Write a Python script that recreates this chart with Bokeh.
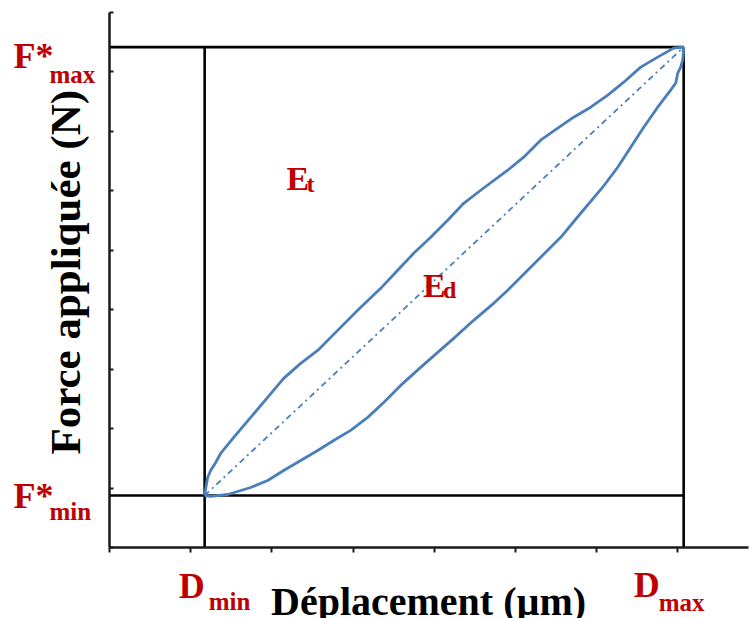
import math
from bokeh.plotting import figure
from bokeh.models import Label, FixedTicker, Range1d
from bokeh.embed import file_html
from bokeh.resources import INLINE

# ---- data (arbitrary units) ----
x_ticks = [0, 1, 2, 3, 4, 5, 6, 7]
y_ticks = [0, 1, 2, 3, 4, 5, 6, 7, 8, 9]
x_axis_end = 7.87
y_axis_end = 9

D_min, D_max = 1.172, 7.071
F_min, F_max = 0.875, 8.418

load_x = [1.172, 1.185, 1.209, 1.246, 1.308, 1.369, 1.530, 1.739, 1.948, 2.145,
          2.355, 2.564, 2.810, 3.069, 3.340, 3.549, 3.746, 3.956, 4.165, 4.362,
          4.571, 4.904, 5.101, 5.310, 5.520, 5.717, 5.926, 6.136, 6.333, 6.542,
          6.751, 6.948, 7.071]
load_y = [0.875, 0.993, 1.178, 1.296, 1.431, 1.582, 1.852, 2.189, 2.525, 2.845,
          3.098, 3.316, 3.653, 4.007, 4.360, 4.663, 4.949, 5.219, 5.505, 5.791,
          6.010, 6.347, 6.566, 6.852, 7.054, 7.239, 7.407, 7.609, 7.828, 8.081,
          8.249, 8.401, 8.418]

unload_x = [1.172, 1.246, 1.456, 1.739, 1.948, 2.145, 2.355, 2.564, 2.761, 2.970,
            3.180, 3.377, 3.586, 3.832, 4.042, 4.239, 4.485, 4.731, 4.904, 5.064,
            5.310, 5.557, 5.803, 6.074, 6.259, 6.419, 6.579, 6.751, 6.911, 6.973,
            6.998, 7.034, 7.059, 7.071, 7.071]
unload_y = [0.875, 0.859, 0.892, 1.010, 1.128, 1.296, 1.465, 1.633, 1.801, 1.970,
            2.189, 2.441, 2.727, 3.030, 3.283, 3.519, 3.822, 4.108, 4.327, 4.545,
            4.882, 5.219, 5.623, 6.061, 6.397, 6.734, 7.071, 7.407, 7.694, 7.811,
            7.980, 8.081, 8.199, 8.367, 8.418]

Et_pos = (2.18, 6.01)
Ed_pos = (3.86, 4.21)

x_title = "Déplacement (µm)"
y_title = "Force appliquée (N)"

RED = "#C00000"
BLUE = "#4A7EBB"
SERIF = "Liberation Serif"

p = figure(width=750, height=618, output_backend="svg", toolbar_location=None,
           x_range=Range1d(-1.342, 7.894), y_range=Range1d(-1.194, 9.202),
           min_border=0, min_border_left=0, min_border_right=0,
           min_border_top=0, min_border_bottom=0)
p.outline_line_color = None
p.grid.visible = False
p.background_fill_color = "white"
p.border_fill_color = "white"

for ax, ticks, end in ((p.xaxis, x_ticks, x_axis_end), (p.yaxis, y_ticks, y_axis_end)):
    ax.ticker = FixedTicker(ticks=ticks)
    ax.major_label_overrides = {t: "" for t in ticks}
    ax.major_label_standoff = 0
    ax.fixed_location = 0
    ax.bounds = (0, end)
    ax.axis_line_color = "#1a1a1a"
    ax.axis_line_width = 2.5
    ax.major_tick_line_color = "#1a1a1a"
    ax.major_tick_line_width = 2
    ax.minor_tick_line_color = None
p.xaxis.major_tick_in = 0
p.xaxis.major_tick_out = 5
p.yaxis.major_tick_in = 4
p.yaxis.major_tick_out = 0

# reference lines (box)
p.segment(x0=[0, 0], y0=[F_max, F_min], x1=[D_max, D_max], y1=[F_max, F_min],
          line_color="black", line_width=2.6)
p.segment(x0=[D_min, D_max], y0=[0, 0], x1=[D_min, D_max], y1=[F_max, F_max],
          line_color="black", line_width=2.6)

# diagonal dash-dot
p.line([D_min, D_max], [F_min, F_max], line_color=BLUE, line_width=1.8,
       line_dash="6 4 2 4")

# hysteresis curves
p.line(load_x, load_y, line_color=BLUE, line_width=2.8, line_join="round")
p.line(unload_x, unload_y, line_color=BLUE, line_width=2.8, line_join="round")

def lab(x, y, txt, size, xo=0, yo=0, color=RED, angle=0, align="left"):
    # compensate the renderer's baseline placement (about 0.34 em)
    shift = 0.34 * size
    if angle:
        xo -= shift
    else:
        yo += shift
    p.add_layout(Label(x=x, y=y, text=txt, x_offset=xo, y_offset=yo,
                       text_font=SERIF, text_font_style="bold",
                       text_font_size=f"{size}px", text_color=color,
                       text_baseline="alphabetic", text_align=align,
                       angle=angle))

# red annotations
lab(0, F_max, "F*", 36, xo=-96, yo=-21)
lab(0, F_max, "max", 25, xo=-60, yo=-36)
lab(0, F_min, "F*", 36, xo=-96, yo=-13)
lab(0, F_min, "min", 25, xo=-60, yo=-24)
lab(D_min, 0, "D", 36, xo=-26, yo=-51)
lab(D_min, 0, "min", 25, xo=4, yo=-62)
lab(D_max, 0, "D", 36, xo=-50, yo=-50)
lab(D_max, 0, "max", 25, xo=-25, yo=-63)
lab(Et_pos[0], Et_pos[1], "E", 34)
lab(Et_pos[0], Et_pos[1], "t", 24, xo=20, yo=-2)
lab(Ed_pos[0], Ed_pos[1], "E", 34)
lab(Ed_pos[0], Ed_pos[1], "d", 24, xo=20, yo=-1)

# axis titles
lab(3.93, 0, x_title, 40, yo=-68, color="black", align="center")
lab(0, 4.63, y_title, 43, xo=-29, color="black", align="center", angle=math.pi / 2)

open("out.html", "w").write(file_html(p, INLINE))
